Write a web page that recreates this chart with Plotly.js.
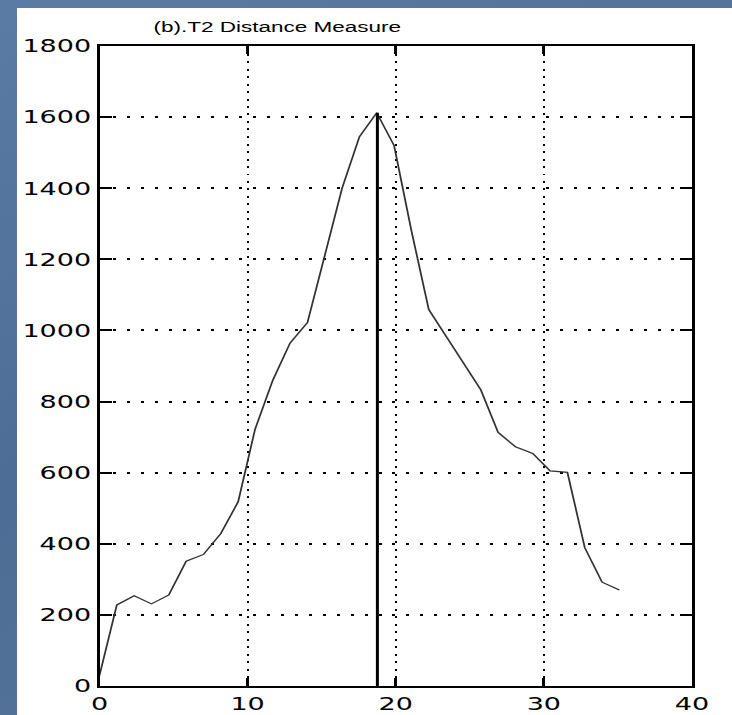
<!DOCTYPE html>
<html>
<head>
<meta charset="utf-8">
<script src="https://cdn.plot.ly/plotly-3.0.1.min.js"></script>
<style>
  html, body { margin: 0; padding: 0; width: 732px; height: 715px; overflow: hidden;
    background: linear-gradient(160deg, #5a7ba3 0%, #4d6d96 50%, #557699 100%); }
  #frame { position: absolute; left: 17px; top: 8px; width: 715px; height: 707px; background: #ffffff; overflow: hidden; }
  #chart { position: absolute; left: 0; top: 0; width: 476.67px; height: 707px; transform-origin: 0 0; transform: scaleX(1.5); }
</style>
</head>
<body>
<div id="frame"><div id="chart"></div></div>
<script>
// Sample index positions (x) and T2 distance values (y)
const sampleX = [0, 1.17, 2.34, 3.51, 4.68, 5.85, 7.02, 8.19, 9.36, 10.5, 11.7, 12.87, 14.04, 15.21, 16.38, 17.55, 18.72, 19.89, 21.06, 22.23, 23.4, 24.57, 25.74, 26.91, 28.08, 29.25, 30.42, 31.59, 32.76, 33.93, 35.1];
const t2Values = [30, 228, 254, 231, 256, 351, 370, 429, 518, 722, 860, 965, 1022, 1210, 1400, 1545, 1612, 1520, 1280, 1059, 985, 910, 833, 713, 673, 654, 605, 601, 389, 292, 270];
// Vertical marker at the peak
const markerX = [18.76, 18.76];
const markerY = [0, 1612];
// Ticks
const xTicks = [0, 10, 20, 30, 40];
const yTicks = [0, 200, 400, 600, 800, 1000, 1200, 1400, 1600, 1800];

const traces = [
  { x: sampleX, y: t2Values, type: 'scatter', mode: 'lines',
    line: { color: '#333333', width: 1.2 }, hoverinfo: 'skip' },
  { x: markerX, y: markerY, type: 'scatter', mode: 'lines',
    line: { color: '#000000', width: 2 }, hoverinfo: 'skip' }
];

const tickFont = { family: 'DejaVu Sans, Liberation Sans, Arial, sans-serif', size: 18, color: '#000000' };

const layout = {
  width: 476.67, height: 707,
  margin: { l: 54.67, r: 27.33, t: 38, b: 29, pad: 0 },
  paper_bgcolor: '#ffffff', plot_bgcolor: '#ffffff',
  showlegend: false,
  title: { text: '(b).T2 Distance Measure', font: { family: 'Liberation Sans, Arial, sans-serif', size: 15, color: '#000000' },
    x: 0.3, xref: 'paper', xanchor: 'center', y: 0.973, yref: 'container', yanchor: 'middle' },
  xaxis: {
    range: [0, 40], tickvals: xTicks, ticktext: xTicks.map(String),
    showline: true, linecolor: '#000000', linewidth: 2, mirror: 'ticks',
    ticks: 'inside', ticklen: 8, tickwidth: 2, tickcolor: '#000000',
    showgrid: true, gridcolor: '#000000', gridwidth: 1.5, griddash: '2px,5.5px',
    zeroline: false, tickfont: tickFont, fixedrange: true
  },
  yaxis: {
    range: [0, 1800], tickvals: yTicks, ticktext: yTicks.map(String),
    showline: true, linecolor: '#000000', linewidth: 2, mirror: 'ticks',
    ticks: 'inside', ticklen: 8, tickwidth: 2, tickcolor: '#000000',
    showgrid: true, gridcolor: '#000000', gridwidth: 2, griddash: '2px,7.3px',
    zeroline: false, tickfont: tickFont, fixedrange: true
  }
};

Plotly.newPlot('chart', traces, layout, { staticPlot: true, displayModeBar: false });
</script>
</body>
</html>
